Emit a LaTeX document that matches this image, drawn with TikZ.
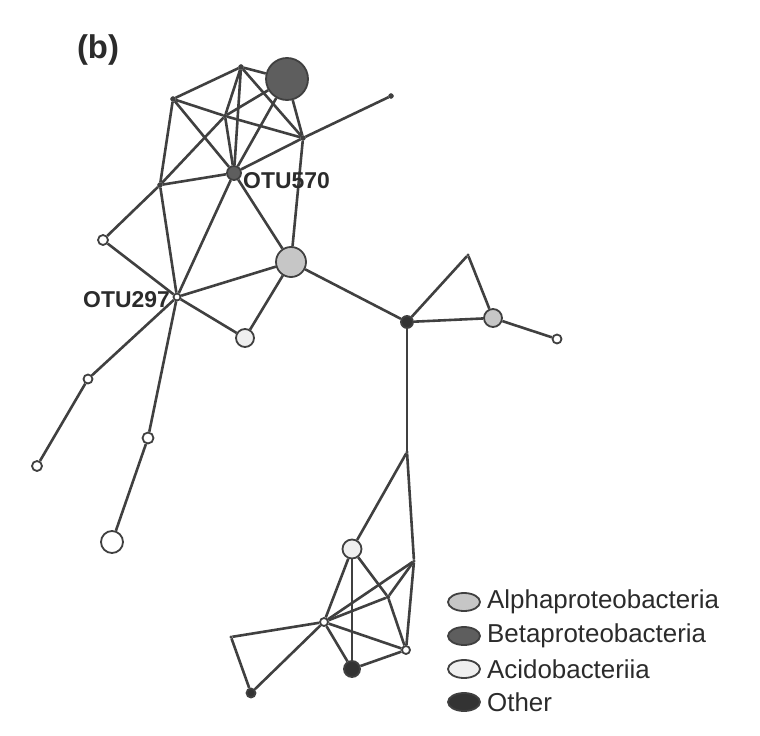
\documentclass[tikz,border=0pt]{standalone}
\usepackage{fontspec}
\setmainfont{Liberation Sans}
\usetikzlibrary{
  backgrounds,
  shapes.geometric
}
\definecolor{ink}{HTML}{2B2B2B}
\definecolor{wire}{HTML}{404040}
\definecolor{alphacol}{HTML}{C6C6C6}
\definecolor{betacol}{HTML}{5E5E5E}
\definecolor{acidocol}{HTML}{EFEFEF}
\definecolor{othercol}{HTML}{333333}

\begin{document}
\begin{tikzpicture}[
  x=1bp, y=-1bp,
  otu/.style={
    circle,
    draw=wire,
    line width=1.8bp,
    inner sep=0pt,
    fill=white
  },
  alphaotu/.style={otu, fill=alphacol},
  betaotu/.style={otu, fill=betacol},
  acidootu/.style={otu, fill=acidocol},
  otherotu/.style={otu, fill=othercol},
  dot/.style={
    circle,
    draw=wire,
    fill=wire,
    inner sep=0pt,
    minimum size=5bp
  },
  joint/.style={dot, minimum size=2.5bp},
  link/.style={
    draw=wire,
    line width=2.6bp
  },
  tag/.style={
    font=\fontsize{23}{27}\selectfont\bfseries,
    text=ink,
    inner sep=0pt
  },
  keymark/.style={
    ellipse,
    draw=wire,
    line width=1.8bp,
    minimum width=32bp,
    minimum height=18bp,
    inner sep=0pt
  },
  keytext/.style={
    font=\fontsize{26}{30}\selectfont,
    text=ink,
    anchor=west,
    inner sep=0pt
  }
]
\useasboundingbox (0,0) rectangle (760,736);

% Panel tag
\node[font=\fontsize{33}{38}\selectfont\bfseries, text=ink] (panel) at (98,50) {(b)};

% Upper module
\node[dot] (ta) at (241,67) {};
\node[betaotu, minimum size=42bp] (beta1) at (287,79) {};
\node[dot] (tb) at (173,99) {};
\node[joint, minimum size=4bp] (tc) at (225,116) {};
\node[dot] (td) at (303,138) {};
\node[dot] (far) at (391,96) {};
\node[betaotu, minimum size=14bp] (otu570) at (234,173) {};
\node[dot] (te) at (160,185) {};
\node[otu, minimum size=10bp] (w1) at (103,240) {};
\node[otu, minimum size=7bp] (otu297) at (177,297) {};
\node[alphaotu, minimum size=30bp] (alpha1) at (291,262) {};
\node[acidootu, minimum size=18bp] (acido1) at (245,338) {};
\node[otu, minimum size=9bp] (w3) at (88,379) {};
\node[otu, minimum size=10bp] (w4) at (37,466) {};
\node[otu, minimum size=11bp] (w5) at (148,438) {};
\node[otu, minimum size=22bp] (w6) at (112,542) {};

% Right module
\node[otherotu, minimum size=12bp] (other1) at (407,322) {};
\node[joint] (tri) at (468,255) {};
\node[alphaotu, minimum size=18bp] (alpha2) at (493,318) {};
\node[otu, minimum size=9bp] (w2) at (557,339) {};

% Lower module
\node[joint] (j1) at (407,452) {};
\node[acidootu, minimum size=19bp] (acido2) at (352,549) {};
\node[joint] (r1) at (414,561) {};
\node[joint, minimum size=4bp] (j2) at (388,597) {};
\node[otu, minimum size=8bp] (hub) at (324,622) {};
\node[joint] (lc) at (231,637) {};
\node[otherotu, minimum size=9bp] (other2) at (251,693) {};
\node[otherotu, minimum size=16bp] (other3) at (352,669) {};
\node[otu, minimum size=8bp] (r2) at (406,650) {};

% OTU labels
\node[tag, anchor=west] (lbl570) at (243,181) {OTU570};
\node[tag, anchor=east] (lbl297) at (170,300) {OTU297};

% Co-occurrence links
\begin{scope}[on background layer]
  \foreach \a/\b in {tb/ta, ta/beta1, ta/otu570, ta/td, ta/tc, tc/otu570,
    tb/tc, tc/td, tb/otu570, tb/te, te/tc, tc/beta1, beta1/td,
    otu570/beta1, far/td, td/otu570, te/otu570, te/w1, te/otu297,
    w1/otu297, otu297/otu570, otu297/alpha1, otu297/acido1,
    otu297/w3, w3/w4, otu297/w5, w5/w6, otu570/alpha1, td/alpha1,
    alpha1/acido1, alpha1/other1, other1/tri, tri/alpha2,
    other1/alpha2, alpha2/w2, other1/j1}
    \draw[link] (\a) -- (\b);
  \foreach \a/\b in {j1/acido2, j1/r1, r1/r2, acido2/hub, acido2/other3,
    acido2/j2, j2/r2, hub/r1, hub/j2, j2/r1, hub/lc, lc/other2,
    other2/hub, hub/other3, hub/r2, other3/r2}
    \draw[link] (\a) -- (\b);
\end{scope}

% Legend
\node[keymark, fill=alphacol] (kalpha) at (464,602) {};
\node[keytext] (talpha) at (487,602) {Alphaproteobacteria};
\node[keymark, fill=betacol] (kbeta) at (464,636) {};
\node[keytext] (tbeta) at (487,636) {Betaproteobacteria};
\node[keymark, fill=acidocol] (kacido) at (464,669) {};
\node[keytext] (tacido) at (487,669) {Acidobacteriia};
\node[keymark, fill=othercol] (kother) at (464,702) {};
\node[keytext] (tother) at (487,702) {Other};

\end{tikzpicture}
\end{document}
